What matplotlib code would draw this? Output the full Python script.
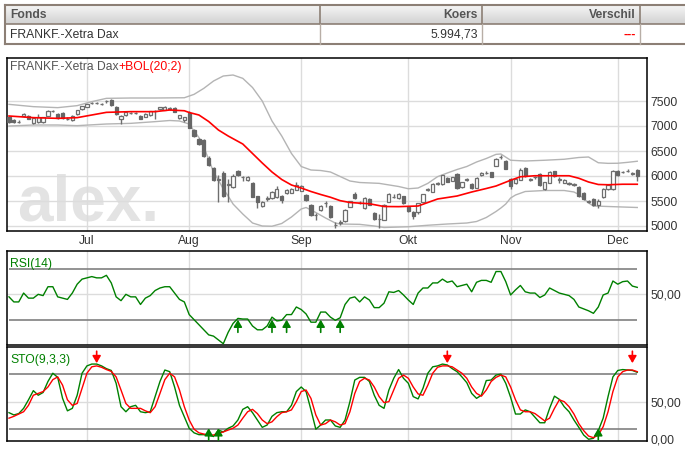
import matplotlib
matplotlib.use('Agg')
import matplotlib.pyplot as plt
import numpy as np
from matplotlib.colors import LinearSegmentedColormap

plt.rcParams['font.family'] = ['Liberation Sans', 'DejaVu Sans']

# ---------------- data ----------------
month_labels = ['Jul', 'Aug', 'Sep', 'Okt', 'Nov', 'Dec']
month_start_idx = [16, 37, 60, 82, 103, 125]

opens = [7180,7130,7085,7200,7210,7070,7080,7080,7210,7300,
         7250,7260,7145,7120,7240,7335,7390,7465,7462,7440,
         7495,7530,7390,7150,7220,7265,7268,7210,7190,7220,
         7300,7335,7330,7350,7370,7160,7130,7270,6930,6740,
         6720,6370,6170,5920,6060,5830,5780,6100,5985,5920,
         5870,5600,5400,5550,5560,5580,5600,5660,5670,5730,
         5710,5620,5420,5218,5320,5465,5400,5020,5060,5100,
         5390,5640,5465,5360,5550,5260,5140,5130,5490,5585,
         5560,5600,5380,5290,5290,5490,5730,5690,5850,5840,
         5970,5910,6040,5780,5930,5840,5770,6020,6065,6080,
         6210,6385,6310,5950,5860,5930,6170,5930,5985,6050,
         5733,5870,6100,5930,5870,5850,5830,5790,5670,5490,
         5545,5420,5580,5740,5740,6110,6085,6105,6050,6130]
highs = [7200,7150,7120,7270,7230,7170,7240,7190,7320,7330,
         7270,7280,7180,7220,7330,7410,7450,7490,7485,7465,
         7520,7540,7400,7230,7300,7290,7290,7230,7260,7310,
         7330,7390,7410,7380,7380,7230,7190,7300,6950,6760,
         6740,6400,6190,6020,6100,5940,6050,6130,6010,6010,
         5890,5610,5500,5600,5700,5800,5620,5750,5760,5880,
         5820,5640,5440,5270,5420,5500,5420,5080,5130,5340,
         5510,5680,5500,5580,5570,5280,5250,5440,5660,5640,
         5670,5610,5400,5300,5470,5650,5760,5870,5880,6030,
         5990,5990,6060,5890,5960,5860,5980,6080,6100,6090,
         6360,6430,6320,5960,5960,6160,6180,5960,6010,6060,
         5890,6100,6110,5980,5940,5890,5860,5800,5690,5520,
         5560,5540,5760,5840,6130,6130,6110,6140,6080,6140]
lows = [7060,7070,7060,7190,7140,7050,7070,7070,7200,7280,
        7140,7140,7120,7110,7230,7320,7380,7440,7440,7420,
        7470,7410,7230,7040,7210,7240,7240,7140,7180,7210,
        7150,7320,7320,7330,7280,7140,7080,6960,6780,6620,
        6380,6200,5910,5490,5590,5490,5770,6010,5900,5900,
        5580,5360,5390,5510,5550,5570,5470,5640,5660,5720,
        5700,5500,5210,5130,5300,5380,5170,4970,5020,5090,
        5380,5550,5440,5350,5420,5130,4970,5120,5480,5560,
        5550,5450,5290,5140,5240,5480,5700,5680,5830,5830,
        5880,5900,5750,5770,5900,5750,5760,6010,6040,5980,
        6200,6350,6140,5740,5850,5920,5990,5900,5950,5800,
        5720,5860,5990,5860,5860,5820,5800,5590,5520,5460,
        5410,5360,5570,5730,5730,6010,6060,6080,6020,5900]
closes = [7080,7080,7090,7250,7150,7160,7180,7180,7300,7305,
          7160,7160,7140,7200,7320,7400,7440,7468,7465,7442,
          7500,7420,7240,7210,7280,7268,7265,7150,7250,7300,
          7310,7380,7390,7355,7290,7220,7180,6970,6800,6640,
          6400,6230,5930,5940,5610,5840,6000,6030,5990,5990,
          5590,5490,5490,5555,5680,5750,5520,5730,5740,5820,
          5800,5520,5230,5222,5400,5470,5180,5030,5080,5330,
          5500,5560,5470,5570,5430,5140,5150,5420,5640,5590,
          5650,5460,5300,5210,5460,5640,5735,5850,5855,6020,
          5890,5980,5760,5880,5935,5760,5970,6060,6068,5990,
          6350,6388,6150,5800,5950,6130,6000,5935,5988,5820,
          5880,6090,6010,5935,5930,5855,5833,5600,5540,5493,
          5420,5510,5750,5820,6110,6020,6088,6108,6054,5995]

bol_up_idx = [0,5,10,14,17,20,25,30,36,38,40,42,44,46,48,50,52,54,56,58,
              60,62,64,66,68,70,72,76,80,82,84,86,88,90,92,94,96,98,100,101,
              103,106,110,114,117,119,121,123,125,127,129]
bol_up = [7433,7387,7367,7407,7487,7553,7560,7560,7565,7633,7753,7900,8000,8020,7953,7770,7500,7100,6800,6450,
          6190,6120,6110,6080,5990,5900,5870,5853,5790,5745,5760,5853,5987,6060,6130,6190,6280,6350,6433,6440,
          6315,6300,6315,6335,6370,6380,6265,6253,6255,6273,6295]
bol_lo_idx = [0,5,10,14,20,25,30,33,35,37,38,39,40,41,42,43,44,45,46,48,
              50,52,54,56,58,60,61,63,65,67,68,72,75,77,82,86,90,94,96,98,
              100,101,102,103,104,106,110,114,116,117,118,119,120,123,126,129]
bol_lo = [7000,7020,7020,7007,7040,7053,7087,7110,7100,7040,6900,6770,6580,6330,6080,5920,5740,5600,5440,5240,
          5060,5000,4995,5050,5180,5340,5370,5270,5160,5060,5040,5033,5000,4970,4985,5015,5040,5060,5090,5170,
          5290,5360,5440,5560,5620,5690,5710,5710,5680,5630,5550,5460,5400,5390,5380,5370]
bol_mid_idx = [0,5,10,14,17,20,25,30,33,36,37,39,41,43,45,48,50,52,54,56,
               58,60,62,64,66,68,70,74,77,80,84,86,88,92,95,98,100,103,105,108,
               115,117,119,121,123,126,129]
bol_mid = [7200,7167,7153,7167,7220,7273,7287,7287,7320,7305,7270,7220,7090,6920,6800,6640,6450,6260,6080,5930,
           5820,5760,5690,5630,5575,5507,5470,5445,5390,5387,5400,5470,5540,5600,5680,5750,5800,5915,5985,6005,
           6005,5955,5880,5830,5825,5835,5835]

rsi = [48,44,44,51,47,47,50,49,56,56,
       48,47,46,51,58,62,63,64,63,63,
       65,59,48,45,50,48,48,42,47,49,
       53,55,56,56,51,46,44,34,30,26,
       22,18,17,14,11,20,27,31,30.5,30.5,
       25,22,22,25,32,29,29.5,34,34,40,
       38,34.5,28,28,36,36,32,29.5,31.5,42,
       47,48,44,48,45.5,39.5,39.5,43,52,51.5,
       53,49.5,45.5,42,51,55,55,59,59,62,
       59.5,60.5,56,57,58,52,59.5,61,61,59.5,
       68,68,60,49.5,53.5,57,52,51,51,47.5,
       49.5,55,53,51,50,49,46,40,38.5,37,
       35,40,49.5,51,60.5,58,60,60.5,56.5,55.5]

sto_k = [38,35.5,37,42.7,52,62,57,60,72,81,
         76.5,53.6,40,42.7,57,81,89,91,91,89,
         86,84,70,44.5,39,44.5,46,39,38,39,
         55.5,72,84.5,82.7,66,46,33.6,21,16,14,
         14,13.6,12,19,17,21,23.5,30,41.6,44.5,
         38,30,22,24.5,34,38,39,39,46,61,
         66,61,41,20,24.5,30,30,23.5,22,30,
         50,73.6,76.5,76.5,72,57,46,42.7,62.7,75.5,
         85,75.5,70,55.5,53,64.5,81,88,89,91,
         90,86,82.7,77,70.7,59,53.6,57,73,73.6,
         79,80,70,54.7,36.5,36.5,41,39,33,27,
         27,42.7,56,52.5,44.5,39,30,22,13.6,9,
         10,18.4,32,55.5,77,84,85,84.5,84,82]
sto_d = [32,34,36.5,39,46,57,59,61,66,74,
         77,68,52,46,48,64.5,81,88,89,87.5,
         85,83,77,62.7,48,42.7,42.7,42.7,40,38,
         44.5,59,74,81,77,62.7,44.5,30,20,16,
         14.7,13.6,13.6,15.5,17,19,21,24.5,32,39,
         41.6,37,30,26,28,33.6,38,39,41,50,
         61,62.7,53.6,35.5,24.5,26,30,28,24.5,26,
         39,59,72,75.5,73.6,66,55.5,49,50,62.7,
         75.5,79,75.5,66,58.4,57,68,81,87.5,89,
         89,88,84.5,81,75.5,66,59,56,62.7,72,
         76.5,79,77,66,52,41,39,39,37,33,
         29,32,42.7,52,50,44.5,36.5,26,18.4,12.5,
         10.7,13.6,22.7,39,61,77,82.7,84.5,84.5,82.7]

rsi_buy_idx = [47, 54, 57, 64, 68]
sto_buy_idx = [41, 43, 121]
sto_sell_idx = [18, 90, 128]

price_ticks = [5000, 5500, 6000, 6500, 7000, 7500]

table_header = ['Fonds', 'Koers', 'Verschil']
table_row = ['FRANKF.-Xetra Dax', '5.994,73', '---']

# ---------------- styling ----------------
W, H = 685, 450
fig = plt.figure(figsize=(W / 100, H / 100), dpi=100)

def rect(x0, y0, x1, y1):
    return [x0 / W, 1 - y1 / H, (x1 - x0) / W, (y1 - y0) / H]

GRID = '#dcdcdc'
TXT = '#333333'
FS = 8.7
n = len(closes)
x = np.arange(n)
XLIM = (-0.41, 131.0)

# ---- table ----
tab = fig.add_axes([0, 0, 1, 1])
tab.set_axis_off()
grad = np.linspace(0, 1, 32).reshape(-1, 1)
cm = LinearSegmentedColormap.from_list('hdr', ['#f5f5f5', '#d2d2d2'])
tab.imshow(grad, extent=[5, W, 24, 5], cmap=cm, aspect='auto', interpolation='bilinear')
bc = '#8c7f75'
tab.plot([5, W], [5, 5], color=bc, lw=1.5)
tab.plot([5, W], [24, 24], color=bc, lw=1.2)
tab.plot([5, W], [44, 44], color=bc, lw=1.5)
tab.plot([5, 5], [5, 44], color=bc, lw=1.5)
for sx in (320, 482, 640):
    tab.plot([sx, sx], [5, 24], color=bc, lw=1.2)
    tab.plot([sx, sx], [24, 44], color='#b8aea6', lw=1.0)
tab.text(10, 14.5, table_header[0], ha='left', va='center', fontsize=FS, fontweight='bold', color='#555555')
tab.text(478, 14.5, table_header[1], ha='right', va='center', fontsize=FS, fontweight='bold', color='#555555')
tab.text(636, 14.5, table_header[2], ha='right', va='center', fontsize=FS, fontweight='bold', color='#555555')
tab.text(10, 34.5, table_row[0], ha='left', va='center', fontsize=FS, color=TXT)
tab.text(478, 34.5, table_row[1], ha='right', va='center', fontsize=FS, color=TXT)
tab.text(636, 34.5, table_row[2], ha='right', va='center', fontsize=FS, color='red', fontweight='bold')
tab.set_xlim(0, W)
tab.set_ylim(H, 0)

# ---- main price axes ----
ax = fig.add_axes(rect(7, 58, 647, 231))
rsi_ax = fig.add_axes(rect(7, 251, 647, 345))
sto_ax = fig.add_axes(rect(7, 347, 647, 441))

for a in (ax, rsi_ax, sto_ax):
    a.set_xlim(*XLIM)
    a.set_xticks(month_start_idx)
    a.set_axisbelow(True)
    a.grid(axis='x', color=GRID, lw=1)
    a.yaxis.tick_right()
    a.tick_params(axis='both', length=0, labelsize=FS, colors=TXT)
    a.tick_params(axis='y', pad=2.5)
    for s in a.spines.values():
        s.set_color('black')
        s.set_linewidth(1.1)
    a.set_facecolor('white')

ax.set_xticklabels(month_labels)
ax.tick_params(axis='x', pad=3)
rsi_ax.tick_params(axis='x', labelbottom=False)
sto_ax.tick_params(axis='x', labelbottom=False)

ax.set_ylim(4900, 8360)
ax.set_yticks(price_ticks)
ax.set_yticklabels([str(v) for v in price_ticks])
ax.grid(axis='y', color=GRID, lw=1)

ax.text(0.0156, 0.058, 'alex.', transform=ax.transAxes, fontsize=46, fontweight='bold',
        color='#e3e3e3', va='baseline', ha='left', zorder=0.2)

# Bollinger bands
ax.plot(bol_up_idx, bol_up, color='#b4b4b4', lw=1.0, zorder=2)
ax.plot(bol_lo_idx, bol_lo, color='#b4b4b4', lw=1.0, zorder=2)

# candles
o = np.array(opens); c = np.array(closes); hi = np.array(highs); lo = np.array(lows)
up = c >= o
ax.vlines(x, lo, hi, color='#6e6e6e', lw=1.0, zorder=3)
bottoms = np.minimum(o, c)
heights = np.maximum(np.abs(c - o), 4)
ax.bar(x[up], heights[up], bottom=bottoms[up], width=0.66, facecolor='white',
       edgecolor='#6e6e6e', lw=0.9, zorder=3.5)
ax.bar(x[~up], heights[~up], bottom=bottoms[~up], width=0.66, facecolor='#666666',
       edgecolor='#666666', lw=0.9, zorder=3.5)

ax.plot(bol_mid_idx, bol_mid, color='#ff0000', lw=1.2, zorder=4)

t1 = ax.text(0.005, 0.985, 'FRANKF.-Xetra Dax', transform=ax.transAxes, fontsize=FS,
             color='#555555', va='top', ha='left', zorder=5)
ax.annotate('+BOL(20;2)', xy=(1, 0), xycoords=t1, va='bottom', ha='left',
            fontsize=FS, color='#ff0000', zorder=5)

# ---- RSI ----
rsi_ax.set_ylim(10, 84.2)
rsi_ax.set_yticks([50])
rsi_ax.set_yticklabels(['50,00'])
rsi_ax.axhline(50, color=GRID, lw=1, zorder=0.5)
rsi_ax.hlines([30, 70], x[0], x[-1], color='#808080', lw=1.2, zorder=1)
rsi_ax.plot(x, rsi, color='#008000', lw=1.0, zorder=3)
for i in rsi_buy_idx:
    rsi_ax.annotate('', xy=(i, 30), xytext=(i, 20),
                    arrowprops=dict(arrowstyle='-|>,head_length=0.6,head_width=0.35',
                                    color='#008000', lw=1.2, shrinkA=0, shrinkB=0,
                                    mutation_scale=7), zorder=4)
rsi_ax.text(0.005, 0.93, 'RSI(14)', transform=rsi_ax.transAxes, fontsize=FS,
            color='#008000', va='top', ha='left')

# ---- STO ----
sto_ax.set_ylim(7.1, 109.6)
sto_ax.set_yticks([9.3, 50])
sto_ax.set_yticklabels(['0,00', '50,00'])
sto_ax.axhline(50, color=GRID, lw=1, zorder=0.5)
sto_ax.hlines([20, 80], x[0], x[-1], color='#808080', lw=1.2, zorder=1)
sto_ax.plot(x, sto_k, color='#008000', lw=1.0, zorder=3)
sto_ax.plot(x, sto_d, color='#ff0000', lw=1.0, zorder=3.2)
for i in sto_buy_idx:
    sto_ax.annotate('', xy=(i, 21), xytext=(i, 8),
                    arrowprops=dict(arrowstyle='-|>,head_length=0.6,head_width=0.35',
                                    color='#008000', lw=1.2, shrinkA=0, shrinkB=0,
                                    mutation_scale=7), zorder=4)
for i in sto_sell_idx:
    sto_ax.annotate('', xy=(i, 92), xytext=(i, 105),
                    arrowprops=dict(arrowstyle='-|>,head_length=0.6,head_width=0.35',
                                    color='#ff0000', lw=1.2, shrinkA=0, shrinkB=0,
                                    mutation_scale=7), zorder=4)
sto_ax.text(0.005, 0.93, 'STO(9,3,3)', transform=sto_ax.transAxes, fontsize=FS,
            color='#008000', va='top', ha='left')

fig.savefig('out.png', dpi=100)
